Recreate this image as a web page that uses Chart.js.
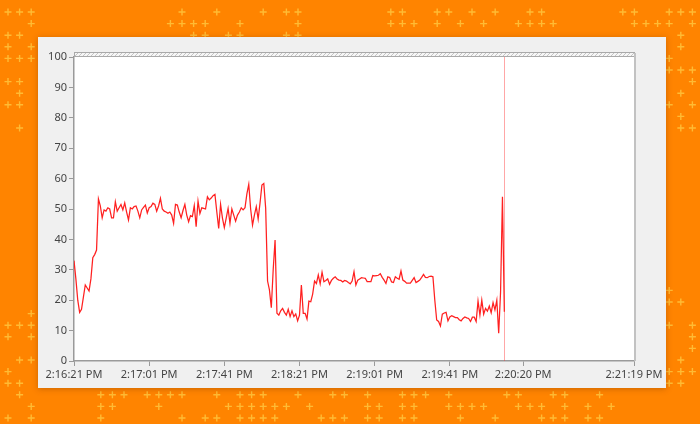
<!DOCTYPE html>
<html>
<head>
<meta charset="utf-8">
<script src="https://cdn.jsdelivr.net/npm/chart.js@4.4.1/dist/chart.umd.min.js"></script>
<style>
  html, body { margin: 0; padding: 0; }
  body { width: 700px; height: 424px; background: #ff8400; position: relative; overflow: hidden; font-family: "Noto Sans", sans-serif; }
  #deco { position: absolute; left: 0; top: 0; }
  #panel { position: absolute; left: 38px; top: 37px; width: 628px; height: 351px; background: #f0f0f0; box-shadow: 0 1px 6px rgba(110, 45, 0, 0.35); }
</style>
</head>
<body>
<canvas id="deco" width="700" height="424"></canvas>
<div id="panel"><canvas id="cpuChart"></canvas></div>
<script>
// seconds since 2:16:21 PM, one sample per second
const values = [
  33, 27, 20, 16, 17, 21, 25, 24, 23, 27,
  34, 35, 36.5, 53.3, 51, 47.1, 49.7, 49.3, 50.4, 50,
  47.1, 47.1, 52.4, 49.3, 50.4, 51.5, 49.7, 52, 49, 46.4,
  50.4, 50, 50.8, 51, 49.3, 47.1, 49.7, 50.5, 51.3, 48.7,
  50.4, 50.8, 51.9, 51.5, 49.3, 51, 53.5, 50, 49.3, 49,
  48.6, 49, 48, 45.3, 51.5, 51.3, 49, 47.1, 49.5, 51.5,
  48, 45.8, 47.8, 47.5, 51.1, 44.2, 52.6, 48.5, 50.4, 50.2,
  50, 54, 53, 53.6, 54.4, 54.8, 49, 43.6, 51.5, 47,
  43.9, 47, 50.2, 45.3, 50, 48, 46, 48, 49, 50.4,
  49.7, 50.4, 55, 58.1, 50, 44.7, 48, 50.8, 46.7, 52,
  57.9, 58.4, 50.2, 26.3, 23.4, 17.5, 30, 39.8, 15.7, 15.1,
  16.5, 17.3, 16, 15.1, 17, 14.6, 16.5, 14.6, 15.5, 13.2,
  15.1, 25, 15.7, 15.7, 13.8, 19.7, 19.5, 22, 26.3, 25.5,
  28.3, 25.4, 29.2, 26.1, 26.5, 27, 25.2, 26.5, 27.2, 27.7,
  27, 26.6, 26.5, 26, 26.5, 26.3, 25.8, 25.4, 26.3, 29.4,
  25, 26.6, 27, 27.4, 27.3, 27.2, 26.1, 26.1, 26.1, 28.1,
  28, 28.1, 28.2, 28.7, 27.5, 26.6, 25.5, 27.7, 27.5, 26,
  25.8, 27.7, 27.2, 26.9, 29.6, 26.6, 26.2, 25.6, 25.6, 25.6,
  26.5, 27.4, 25.8, 26.2, 26.6, 27.5, 28.5, 27.5, 27.4, 27.8,
  27.9, 27.7, 20, 13.5, 13, 11.5, 15.4, 15.8, 16, 13.2,
  14.5, 14.9, 14.6, 14.3, 14.3, 13.6, 13.2, 14, 14.5, 14.2,
  14, 13, 14.4, 14.4, 13, 19.7, 15.1, 20, 15.4, 17.3,
  16.4, 18.1, 15.9, 19.2, 16.8, 20, 9.1, 22.8, 54, 16.2
];
const seconds = values.map((v, i) => i);

const tickSecs = [0, 40, 80, 120, 160, 200, 239, 298];
const tickLabels = ["2:16:21 PM", "2:17:01 PM", "2:17:41 PM", "2:18:21 PM", "2:19:01 PM", "2:19:41 PM", "2:20:20 PM", "2:21:19 PM"];
const cursorSec = 229;

// background plus signs (decoration only)
(function drawDeco() {
  const c = document.getElementById("deco").getContext("2d");
  const zones = [[0, 0, 50, 140], [160, 2, 320, 36], [390, 2, 560, 34], [660, 20, 700, 130],
                 [660, 280, 700, 400], [0, 300, 40, 424], [90, 390, 620, 424], [600, 0, 700, 30]];
  c.strokeStyle = "rgba(255, 205, 70, 0.75)";
  c.lineWidth = 1.4;
  for (let gx = 8; gx < 700; gx += 11.6) {
    for (let gy = 12; gy < 424; gy += 11.6) {
      if (!zones.some(z => gx >= z[0] && gx <= z[2] && gy >= z[1] && gy <= z[3])) continue;
      const h = Math.abs(Math.sin(gx * 12.9898 + gy * 78.233) * 43758.5453) % 1;
      if (h < 0.5) continue;
      c.beginPath();
      c.moveTo(gx - 3.5, gy); c.lineTo(gx + 3.5, gy);
      c.moveTo(gx, gy - 3.5); c.lineTo(gx, gy + 3.5);
      c.stroke();
    }
  }
})();

const frame = {
  id: "frame",
  beforeDraw(chart) {
    const { ctx, chartArea: a } = chart;
    ctx.save();
    ctx.fillStyle = "#ffffff";
    ctx.fillRect(a.left, a.top, a.right - a.left, a.bottom - a.top);
    ctx.restore();
  },
  beforeDatasetsDraw(chart) {
    const { ctx, chartArea: a, scales } = chart;
    const x = Math.round(scales.x.getPixelForValue(cursorSec)) + 0.5;
    ctx.save();
    ctx.strokeStyle = "rgba(255, 60, 60, 0.45)";
    ctx.lineWidth = 1;
    ctx.beginPath();
    ctx.moveTo(x, a.top);
    ctx.lineTo(x, a.bottom);
    ctx.stroke();
    ctx.restore();
  },
  afterDraw(chart) {
    const { ctx, chartArea: a } = chart;
    ctx.save();
    // hatched strip above the plot
    const p = document.createElement("canvas");
    p.width = 4; p.height = 4;
    const pc = p.getContext("2d");
    pc.fillStyle = "#f6f6f6"; pc.fillRect(0, 0, 4, 4);
    pc.strokeStyle = "#c4c4c4"; pc.lineWidth = 1;
    pc.beginPath(); pc.moveTo(0, 4); pc.lineTo(4, 0); pc.stroke();
    ctx.fillStyle = ctx.createPattern(p, "repeat");
    ctx.fillRect(a.left, a.top - 4, a.right - a.left, 4);
    ctx.strokeStyle = "#a9a9a9";
    ctx.lineWidth = 1;
    ctx.strokeRect(a.left + 0.5, a.top - 4.5, a.right - a.left, 4);
    // right border
    ctx.strokeStyle = "#c2c2c2";
    ctx.lineWidth = 2;
    ctx.beginPath();
    ctx.moveTo(a.right + 1, a.top - 4);
    ctx.lineTo(a.right + 1, a.bottom);
    ctx.stroke();
    ctx.restore();
  }
};

const tickFont = { family: "'Noto Sans', sans-serif", size: 11 };

new Chart(document.getElementById("cpuChart"), {
  type: "line",
  data: {
    labels: seconds,
    datasets: [{
      data: seconds.map((s, i) => ({ x: s, y: values[i] })),
      borderColor: "#ff2020",
      borderWidth: 1.25,
      pointRadius: 0,
      tension: 0,
      fill: false
    }]
  },
  options: {
    responsive: true,
    maintainAspectRatio: false,
    animation: false,
    layout: { padding: { top: 20, right: 32, left: 0, bottom: 0 } },
    plugins: { legend: { display: false }, tooltip: { enabled: false } },
    scales: {
      x: {
        type: "linear",
        min: 0,
        max: 298,
        afterBuildTicks: (s) => { s.ticks = tickSecs.map(v => ({ value: v })); },
        afterFit: (s) => { s.height = 27; },
        ticks: {
          autoSkip: false,
          maxRotation: 0,
          padding: 2,
          color: "#444",
          font: tickFont,
          callback: (v, i) => tickLabels[i]
        },
        grid: { drawOnChartArea: false, drawTicks: true, tickLength: 5, color: "#9a9a9a" },
        border: { color: "#9a9a9a", width: 1.5 }
      },
      y: {
        min: 0,
        max: 100,
        afterFit: (s) => { s.width = 36; },
        ticks: { stepSize: 10, padding: 2, color: "#444", font: tickFont },
        grid: { drawOnChartArea: false, drawTicks: true, tickLength: 5, color: "#9a9a9a" },
        border: { color: "#9a9a9a", width: 1.5 }
      }
    }
  },
  plugins: [frame]
});
</script>
</body>
</html>
